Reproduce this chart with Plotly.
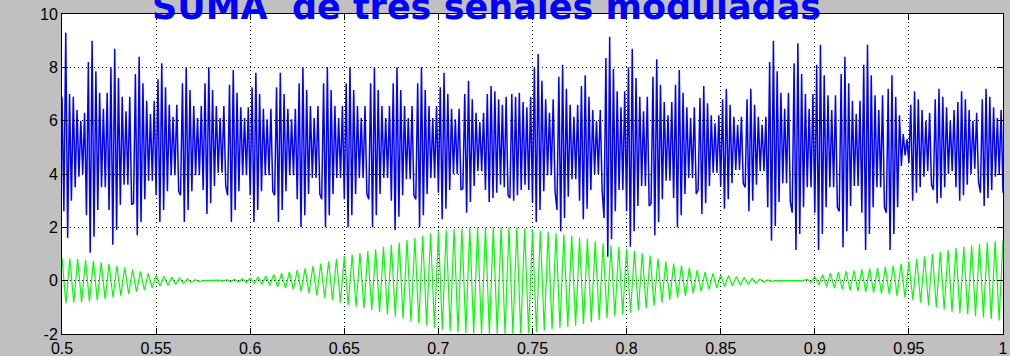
import plotly.graph_objects as go

# Sum of three modulated signals (offset +5), sampled every 1 ms from t = 0.5 s.
# Grouped by beat (about 12.5 samples per beat) to keep the rows readable.
t_start = 0.5
sample_step = 0.001
suma_beats = [
    [6.9, 2.6, 9.3, 1.6, 7.0, 3.0, 6.9, 3.5, 6.4, 3.9, 6.0, 4.0, 6.3],
    [2.45, 8.2, 1.05, 9.0, 1.65, 7.85, 2.65, 7.05, 3.5, 6.45, 3.5, 7.05],
    [2.65, 8.0, 1.35, 8.7, 1.9, 7.6, 2.85, 6.9, 3.6, 6.35, 3.6, 6.9, 2.85],
    [2.9, 7.75, 1.7, 8.4, 2.2, 7.4, 3.05, 6.75, 3.75, 6.25, 3.75, 6.75],
    [3.2, 7.55, 2.2, 8.15, 2.65, 7.25, 3.35, 6.6, 3.95, 6.15, 3.95, 6.6, 3.35],
    [3.2, 7.4, 2.2, 8.0, 2.65, 7.15, 3.35, 6.55, 3.95, 6.1, 3.95, 6.55],
    [3.4, 7.4, 2.5, 8.0, 2.9, 7.15, 3.55, 6.55, 4.05, 6.1, 4.05, 6.55, 3.55],
    [3.2, 7.35, 2.2, 7.9, 2.65, 7.05, 3.35, 6.5, 3.95, 6.1, 3.95, 6.5],
    [3.2, 7.25, 2.2, 7.8, 2.65, 7.0, 3.35, 6.45, 3.95, 6.05, 3.95, 6.45, 3.35],
    [3.2, 7.25, 2.2, 7.8, 2.65, 7.0, 3.35, 6.45, 3.95, 6.05, 3.95, 6.45],
    [3.05, 7.4, 2.0, 8.0, 2.45, 7.15, 3.25, 6.55, 3.85, 6.1, 3.85, 6.55, 3.25],
    [3.05, 7.4, 2.0, 8.0, 2.45, 7.15, 3.25, 6.55, 3.85, 6.1, 3.85, 6.55],
    [3.05, 7.4, 2.0, 8.0, 2.45, 7.15, 3.25, 6.55, 3.85, 6.1, 3.85, 6.55, 3.25],
    [3.05, 7.4, 2.0, 8.0, 2.45, 7.15, 3.25, 6.55, 3.85, 6.1, 3.85, 6.55],
    [3.0, 7.4, 1.9, 8.0, 2.4, 7.15, 3.2, 6.55, 3.8, 6.1, 3.8, 6.55, 3.2],
    [3.05, 7.4, 2.0, 8.0, 2.45, 7.15, 3.25, 6.55, 3.85, 6.1, 3.85, 6.55],
    [3.3, 7.25, 2.3, 7.8, 2.7, 7.0, 3.4, 6.45, 4.0, 6.05, 4.0, 6.45, 3.4],
    [3.45, 7.0, 2.55, 7.5, 2.95, 6.8, 3.55, 6.3, 4.1, 5.95, 4.1, 6.3],
    [3.4, 7.0, 2.95, 7.3, 3.1, 7.1, 3.3, 6.8, 3.6, 6.6, 3.5, 6.9, 3.2],
    [3.1, 7.0, 3.0, 6.9, 3.2, 7.05, 3.4, 6.7, 3.6, 6.5, 3.4, 6.9],
    [2.95, 8.0, 2.2, 8.5, 2.65, 7.5, 3.35, 6.8, 3.95, 6.3, 3.95, 6.8, 3.35],
    [2.65, 7.65, 1.85, 8.1, 2.35, 7.2, 3.15, 6.6, 3.8, 6.15, 3.8, 6.6],
    [3.0, 7.3, 2.3, 7.7, 2.7, 6.9, 3.4, 6.4, 4.0, 6.0, 4.0, 6.4, 3.4],
    [2.35, 8.35, 0.9, 9.15, 1.55, 7.95, 2.6, 7.1, 3.4, 6.5, 3.4, 7.1],
    [2.6, 8.0, 1.27, 8.7, 1.85, 7.6, 2.8, 6.9, 3.55, 6.35, 3.55, 6.9, 2.8],
    [2.9, 7.65, 1.7, 8.3, 2.2, 7.35, 3.05, 6.7, 3.75, 6.2, 3.75, 6.7],
    [3.1, 7.35, 2.0, 7.9, 2.45, 7.05, 3.25, 6.5, 3.85, 6.1, 3.85, 6.5, 3.25],
    [3.4, 6.85, 2.5, 7.3, 2.9, 6.65, 3.55, 6.2, 4.05, 5.9, 4.05, 6.2],
    [3.55, 6.8, 2.7, 7.2, 3.05, 6.6, 3.65, 6.15, 4.15, 5.85, 4.15, 6.15, 3.65],
    [3.5, 6.8, 2.6, 7.2, 3.0, 6.6, 3.6, 6.15, 4.1, 5.85, 4.1, 6.15],
    [2.75, 8.2, 1.5, 9.0, 2.05, 7.85, 2.95, 7.05, 3.65, 6.45, 3.65, 7.05, 2.95],
    [2.55, 8.15, 1.15, 8.9, 1.75, 7.75, 2.75, 7.0, 3.5, 6.45, 3.5, 7.0],
    [2.55, 8.1, 1.15, 8.85, 1.75, 7.7, 2.75, 6.95, 3.5, 6.4, 3.5, 6.95, 2.75],
    [2.6, 7.75, 1.25, 8.4, 1.85, 7.4, 2.8, 6.75, 3.55, 6.25, 3.55, 6.75],
    [2.55, 8.1, 1.15, 8.85, 1.75, 7.7, 2.75, 6.95, 3.5, 6.4, 3.5, 6.95, 2.75],
    [2.55, 7.2, 1.15, 7.7, 1.75, 6.9, 2.75, 6.2, 4.3, 5.5, 4.7, 5.3],
    [4.4, 6.6, 3.0, 7.1, 3.3, 6.8, 3.5, 6.4, 3.9, 6.0, 4.1, 6.3, 3.6],
    [3.4, 6.8, 2.9, 7.2, 3.1, 6.9, 3.5, 6.5, 4.0, 6.0, 4.1, 6.4],
    [3.5, 6.7, 3.0, 7.1, 3.2, 6.8, 3.6, 6.4, 4.0, 6.0, 4.2, 6.3, 3.7],
    [3.3, 6.8, 2.8, 7.2, 3.1, 6.9, 3.4, 6.5, 3.9, 6.1, 4.0, 6.4],
    [3.3],
]

# One modulated signal: peak amplitude of each carrier cycle (240 Hz carrier).
carrier_period = 1 / 240
green_peak = [
    0.85, 0.83, 0.81, 0.78, 0.74, 0.69, 0.63, 0.56, 0.50, 0.42,
    0.35, 0.27, 0.20, 0.17, 0.13, 0.10, 0.07, 0.04, 0.0, 0.0,
    0.02, 0.04, 0.05, 0.07, 0.09, 0.13, 0.18, 0.23, 0.28, 0.33,
    0.40, 0.46, 0.55, 0.64, 0.73, 0.82, 0.92, 0.98, 1.04, 1.10,
    1.18, 1.27, 1.35, 1.43, 1.52, 1.60, 1.68, 1.77, 1.85, 1.89,
    1.93, 1.96, 1.98, 2.0, 2.0, 2.0, 2.0, 2.0, 1.99, 1.96,
    1.92, 1.87, 1.82, 1.78, 1.74, 1.69, 1.62, 1.56, 1.48, 1.40,
    1.33, 1.26, 1.20, 1.12, 1.03, 0.94, 0.83, 0.72, 0.64, 0.57,
    0.48, 0.40, 0.33, 0.27, 0.22, 0.19, 0.16, 0.13, 0.09, 0.06,
    0.03, 0.0, 0.0, 0.0, 0.0, 0.06, 0.15, 0.22, 0.28, 0.32,
    0.36, 0.39, 0.42, 0.45, 0.48, 0.52, 0.57, 0.64, 0.72, 0.82,
    0.91, 1.00, 1.08, 1.16, 1.22, 1.27, 1.33, 1.38, 1.44, 1.49,
    1.53,
]

x_ticks = [0.5, 0.55, 0.6, 0.65, 0.7, 0.75, 0.8, 0.85, 0.9, 0.95, 1.0]
x_tick_text = ["0.5", "0.55", "0.6", "0.65", "0.7", "0.75", "0.8", "0.85", "0.9", "0.95", "1"]
y_ticks = [-2, 0, 2, 4, 6, 8, 10]
y_tick_text = ["-2", "0", "2", "4", "6", "8", "10"]

# Flatten the summed signal and give each sample its time.
suma = [v for beat in suma_beats for v in beat]
t_suma = [t_start + i * sample_step for i in range(len(suma))]

# Each carrier cycle: crest at the cycle start, trough half a period later.
t_green, y_green = [], []
for i, a in enumerate(green_peak):
    t_green.append(t_start + i * carrier_period)
    y_green.append(a)
    if i < len(green_peak) - 1:
        t_green.append(t_start + (i + 0.5) * carrier_period)
        y_green.append(-a)

fig = go.Figure()
fig.add_trace(go.Scatter(x=t_suma, y=suma, mode="lines",
                         line=dict(color="#0000ff", width=1.5), hoverinfo="skip"))
fig.add_trace(go.Scatter(x=t_green, y=y_green, mode="lines",
                         line=dict(color="#00ff00", width=1.2), hoverinfo="skip"))

axis_common = dict(
    showline=True, linecolor="black", linewidth=1, mirror="ticks",
    ticks="inside", ticklen=6, tickcolor="black", tickwidth=1,
    showgrid=True, gridcolor="black", gridwidth=1, griddash="1px,3px",
    zeroline=False, automargin=False,
    tickfont=dict(family="Liberation Sans, Arial, sans-serif", size=16, color="black"),
)

fig.update_xaxes(range=[0.5, 1.0], tickmode="array", tickvals=x_ticks,
                 ticktext=x_tick_text, **axis_common)
fig.update_yaxes(range=[-2, 10], tickmode="array", tickvals=y_ticks,
                 ticktext=y_tick_text, **axis_common)

fig.update_layout(
    width=1010, height=356, autosize=False,
    paper_bgcolor="#c0c0c0", plot_bgcolor="white",
    margin=dict(l=62, r=7, t=14, b=22),
    showlegend=False,
    title=dict(
        text="SUMA\u00a0\u00a0de tres señales moduladas",
        font=dict(family="DejaVu Sans, sans-serif", size=35, color="#0000ff", weight="bold"),
        xref="container", x=152 / 1010, xanchor="left",
        yref="container", y=1 - 19 / 356, yanchor="bottom",
    ),
)

fig.write_html("out.html")
